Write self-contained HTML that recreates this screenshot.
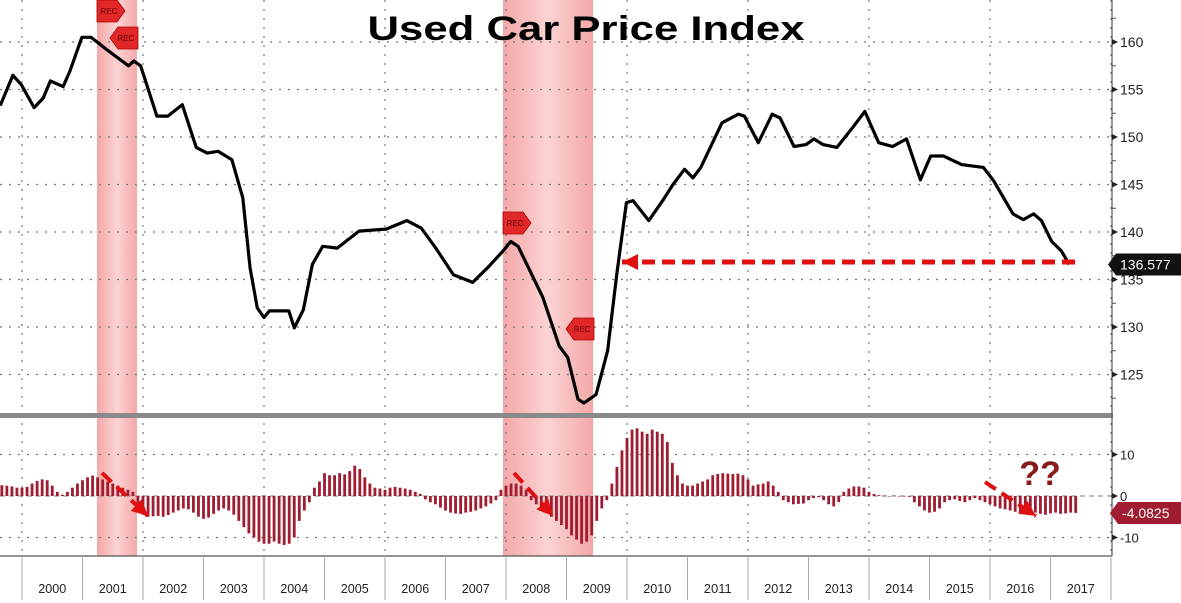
<!DOCTYPE html>
<html><head><meta charset="utf-8"><style>
html,body{margin:0;padding:0;background:#fff;width:1181px;height:603px;overflow:hidden}
svg{display:block}
text{font-family:"Liberation Sans",sans-serif}
</style></head><body>
<svg id="chart" width="1181" height="603" viewBox="0 0 1181 603" xmlns="http://www.w3.org/2000/svg">
<defs>
<linearGradient id="rec" x1="0" x2="1" y1="0" y2="0">
<stop offset="0" stop-color="#f4a8a8"/><stop offset="0.5" stop-color="#fbd3d3"/><stop offset="1" stop-color="#f4a8a8"/></linearGradient>
</defs>
<g id="bands"></g>
<g id="grid"></g>
<g id="bars"></g>
<g id="line"></g>
<g id="axes"></g>
<g id="annot"></g>
</svg>
<script>
const NS="http://www.w3.org/2000/svg";
// ---- data ----
const lineDates=[1999.64,1999.85,1999.99,2000.20,2000.35,2000.47,2000.68,2000.79,2000.99,2001.14,2001.40,2001.76,2001.85,2001.96,2002.23,2002.41,2002.65,2002.88,2003.06,2003.24,2003.47,2003.65,2003.77,2003.89,2004.00,2004.09,2004.41,2004.50,2004.65,2004.80,2004.97,2005.21,2005.57,2006.02,2006.36,2006.60,2006.84,2007.13,2007.45,2007.72,2007.95,2008.08,2008.20,2008.61,2008.88,2009.02,2009.19,2009.29,2009.49,2009.68,2009.83,2009.99,2010.10,2010.36,2010.59,2010.76,2010.95,2011.09,2011.22,2011.57,2011.84,2011.94,2012.17,2012.40,2012.53,2012.76,2012.96,2013.09,2013.24,2013.47,2013.73,2013.93,2014.16,2014.39,2014.62,2014.85,2015.02,2015.23,2015.53,2015.89,2016.06,2016.38,2016.55,2016.72,2016.85,2017.02,2017.18,2017.31];
const lineValues=[153.3,156.5,155.5,153.1,154.1,155.9,155.3,156.9,160.5,160.5,159.2,157.5,158.0,157.5,152.2,152.2,153.4,148.9,148.3,148.5,147.6,143.6,136.2,132.0,131.0,131.7,131.7,129.9,131.8,136.6,138.5,138.3,140.1,140.3,141.2,140.4,138.3,135.5,134.7,136.4,138.0,139.0,138.5,133.1,128.0,126.8,122.4,122.0,122.9,127.5,135.5,143.1,143.3,141.2,143.3,145.0,146.6,145.7,146.8,151.5,152.4,152.2,149.4,152.4,152.0,149.0,149.2,149.8,149.2,148.9,151.0,152.7,149.4,149.0,149.8,145.5,148.0,148.0,147.1,146.8,145.4,141.9,141.3,141.9,141.2,139.0,138.0,136.577];
const barStart=1999+8/12;
const barValues=[2.6,2.5,2.3,2.0,2.0,2.2,3.0,3.6,4.0,3.8,2.5,1.0,0.3,1.0,2.0,3.0,3.8,4.5,4.9,4.5,4.0,3.5,3.0,2.5,2.0,1.5,1.0,-3.0,-4.5,-5.0,-4.9,-4.8,-5.0,-4.6,-4.0,-3.5,-3.0,-3.2,-4.0,-5.0,-5.5,-5.2,-4.3,-3.5,-3.0,-3.5,-4.5,-6.0,-7.5,-9.0,-10.0,-11.0,-11.5,-11.5,-11.0,-11.5,-11.8,-11.5,-10.0,-6.0,-3.5,-1.5,2.0,3.5,5.5,5.0,5.0,5.5,5.2,6.0,7.3,6.5,4.5,3.0,2.0,1.8,1.5,2.0,2.2,2.0,1.8,1.5,1.0,0.5,-0.8,-1.5,-2.0,-2.8,-3.5,-4.0,-4.2,-4.3,-4.0,-3.8,-3.5,-3.0,-2.5,-1.8,-1.0,1.5,2.5,3.0,3.0,2.5,1.5,-1.0,-2.0,-3.0,-4.0,-5.0,-6.0,-7.0,-8.0,-9.5,-10.5,-11.5,-11.0,-9.5,-6.0,-3.0,-1.0,3.0,7.0,11.0,14.0,16.0,16.3,15.5,15.0,16.0,15.5,15.0,13.0,8.0,5.0,3.0,2.5,2.5,3.0,3.5,4.0,5.0,5.3,5.5,5.4,5.3,5.4,5.0,4.0,2.5,2.8,3.0,3.5,2.5,1.0,-1.0,-1.5,-2.0,-1.9,-1.8,-1.0,-0.5,-0.3,-1.0,-2.0,-2.5,-1.5,1.0,1.8,2.3,2.3,2.0,1.0,0.5,0.2,0.1,0.0,0.1,-0.1,0.0,-0.2,-1.5,-2.5,-3.5,-4.0,-3.8,-3.0,-1.5,-1.0,-0.8,-1.2,-1.5,-1.0,-0.5,-1.0,-1.5,-2.0,-2.5,-3.0,-3.2,-3.5,-3.8,-4.0,-4.3,-4.2,-4.0,-4.3,-4.5,-4.2,-4.0,-4.3,-4.2,-4.0,-4.0825];
const years=[2000,2001,2002,2003,2004,2005,2006,2007,2008,2009,2010,2011,2012,2013,2014,2015,2016,2017];
const upperTicks=[160,155,150,145,140,135,130,125];
const lowerTicks=[10,0,-10];
const recessions=[[2001.24,2001.9],[2007.95,2009.44]];
// ---- scales ----
const X=t=>22+(t-2000)*60.5;
const YU=v=>42+(160-v)*9.5;
const YL=v=>496-v*4.15;
const R=1112;
function el(tag,attrs,parent,txt){const e=document.createElementNS(NS,tag);for(const k in attrs)e.setAttribute(k,attrs[k]);if(txt!==undefined)e.textContent=txt;document.getElementById(parent).appendChild(e);return e;}
recessions.forEach((r,i)=>{const e=el('rect',{x:X(r[0]),y:0,width:X(r[1])-X(r[0]),height:556,fill:'url(#rec)'},'bands');

});
upperTicks.forEach(v=>{const e=el('line',{x1:0,x2:R,y1:YU(v),y2:YU(v),stroke:'#777','stroke-dasharray':'2,7','stroke-width':1.3},'grid');

});
lowerTicks.forEach(v=>{const e=el('line',{x1:0,x2:R,y1:YL(v),y2:YL(v),stroke:v===0?'#999':'#777','stroke-dasharray':v===0?'5,4':'2,7','stroke-width':1.3},'grid');

});
for(let y=2000;y<=2018;y+=2){const e=el('line',{x1:X(y),x2:X(y),y1:0,y2:556,stroke:'#777','stroke-dasharray':'2,7','stroke-width':1.2},'grid');

}
barValues.forEach((v,i)=>{const t=barStart+i/12;const x=X(t);const y0=YL(0),y1=YL(v);
const e=el('rect',{x:x-1.4,y:Math.min(y0,y1),width:2.8,height:Math.max(0.5,Math.abs(y1-y0)),fill:'#a01c30'},'bars');

});
let d='';lineDates.forEach((t,i)=>{d+=(i?'L':'M')+X(t).toFixed(1)+','+YU(lineValues[i]).toFixed(1);});
const pl=el('path',{d:d,fill:'none',stroke:'#000','stroke-width':3.2,'stroke-linejoin':'round'},'line');


const sep=el('rect',{x:0,y:413,width:R+1,height:5,fill:'#8a8a8a'},'axes');


const ra=el('line',{x1:R,x2:R,y1:0,y2:556,stroke:'#555','stroke-width':1.2},'axes');


const ba=el('line',{x1:0,x2:R,y1:556,y2:556,stroke:'#555','stroke-width':1.2},'axes');


[162.5,157.5,152.5,147.5,142.5,137.5,132.5,127.5,122.5].forEach(v=>{el('line',{x1:R,x2:R+4,y1:YU(v),y2:YU(v),stroke:'#555'},'axes');});
upperTicks.forEach(v=>{el('path',{d:`M${R},${YU(v)-3}L${R+6},${YU(v)}L${R},${YU(v)+3}Z`,fill:'#222'},'axes');
const t=el('text',{x:R+8,y:YU(v)+5,'font-size':14,fill:'#222'},'axes',String(v));

});
lowerTicks.forEach(v=>{el('path',{d:`M${R},${YL(v)-3}L${R+6},${YL(v)}L${R},${YL(v)+3}Z`,fill:'#222'},'axes');
const t=el('text',{x:R+8,y:YL(v)+5,'font-size':13,fill:'#222'},'axes',String(v));

});
years.forEach(y=>{el('line',{x1:X(y),x2:X(y),y1:556,y2:600,stroke:'#aaa'},'axes');
const t=el('text',{x:X(y+0.5),y:593,'font-size':13,'text-anchor':'middle',fill:'#222',textLength:28,lengthAdjust:'spacingAndGlyphs'},'axes',String(y));

});
el('line',{x1:X(2018),x2:X(2018),y1:556,y2:600,stroke:'#aaa'},'axes');
const lastV=lineValues[lineValues.length-1];
el('path',{d:`M${R-4},${YU(lastV)}L${R+4},${YU(lastV)-11}H1181V${YU(lastV)+11}H${R+4}Z`,fill:'#111'},'annot');
const lv=el('text',{x:R+8,y:YU(lastV)+5,'font-size':14,fill:'#fff'},'annot',String(lastV));


const lastB=barValues[barValues.length-1];
el('path',{d:`M${R-2},${YL(lastB)}L${R+6},${YL(lastB)-11}H1181V${YL(lastB)+11}H${R+6}Z`,fill:'#a01c30'},'annot');
const lb=el('text',{x:R+10,y:YL(lastB)+5,'font-size':14,fill:'#fff'},'annot',String(lastB));


const ti=el('text',{x:586,y:40,'font-size':34,'font-weight':'bold','text-anchor':'middle',fill:'#000',textLength:437,lengthAdjust:'spacingAndGlyphs','font-family':'DejaVu Sans, sans-serif'},'annot','Used Car Price Index');


function rec(x,y,right){const p=right?`M${x},${y}H${x+20}L${x+28},${y+11}L${x+20},${y+22}H${x}Z`:`M${x+28},${y}H${x+8}L${x},${y+11}L${x+8},${y+22}H${x+28}Z`;
const g=el('path',{d:p,fill:'#e02828',stroke:'#a00',"stroke-width":0.8},'annot');


el('text',{x:x+(right?12:16),y:y+14,'font-size':8,'text-anchor':'middle',fill:'#600'},'annot','REC');}
rec(97,0,true);rec(110,27,false);rec(503,212,true);rec(566,318,false);
function arrow(x1,y1,x2,y2,w){const e=el('line',{x1:x1,y1:y1,x2:x2,y2:y2,stroke:'#e01010','stroke-width':w,'stroke-dasharray':'13,7'},'annot');


const a=Math.atan2(y2-y1,x2-x1),L=16,W=8;const bx=x2-L*Math.cos(a),by=y2-L*Math.sin(a);
el('path',{d:`M${x2},${y2}L${bx+W*Math.sin(a)},${by-W*Math.cos(a)}L${bx-W*Math.sin(a)},${by+W*Math.cos(a)}Z`,fill:'#e01010'},'annot');}
arrow(1075,262,622,262,5);
arrow(102,473,148,516,4);arrow(514,473,553,516,4);arrow(985,482,1036,516,4);
const q=el('text',{x:1040,y:485,'font-size':34,'font-weight':'bold','text-anchor':'middle',fill:'#8b1a1a'},'annot','??');


</script>
</body></html>
